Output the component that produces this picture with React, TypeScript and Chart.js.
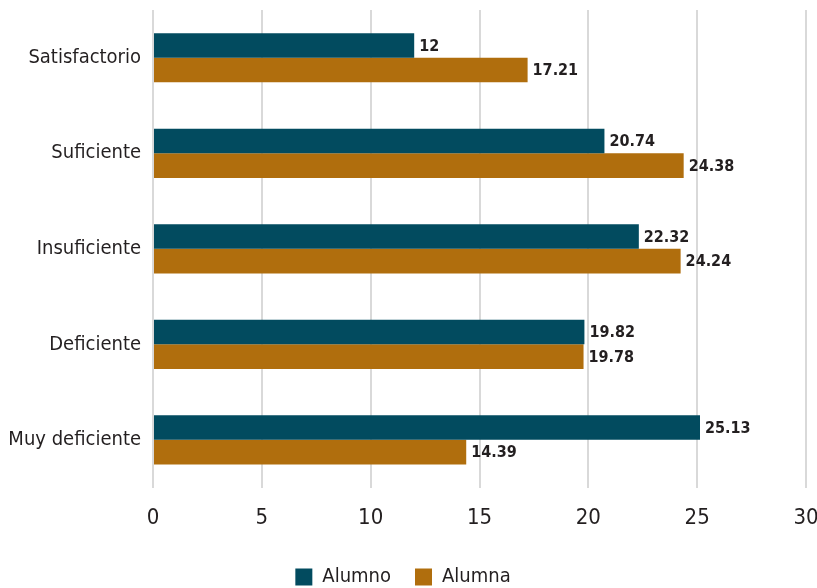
import React, { useEffect, useRef } from "react";
import { Chart, registerables } from "chart.js";

Chart.register(...registerables);

const categories = ["Satisfactorio", "Suficiente", "Insuficiente", "Deficiente", "Muy deficiente"];
const alumnoValues = [12, 20.74, 22.32, 19.82, 25.13];
const alumnaValues = [17.21, 24.38, 24.24, 19.78, 14.39];
const seriesNames = ["Alumno", "Alumna"];
const xTicks = [0, 5, 10, 15, 20, 25, 30];

const FONT = "'DejaVu Sans Condensed', 'Liberation Sans Narrow', sans-serif";
const TEXT = "#231f20";

const valueLabels = {
  id: "valueLabels",
  afterDatasetsDraw(chart: any) {
    const ctx = chart.ctx;
    ctx.save();
    ctx.font = `bold 16px ${FONT}`;
    ctx.fillStyle = TEXT;
    ctx.textAlign = "left";
    ctx.textBaseline = "middle";
    chart.data.datasets.forEach((ds: any, di: number) => {
      const meta = chart.getDatasetMeta(di);
      meta.data.forEach((bar: any, i: number) => {
        const v = ds.data[i];
        ctx.fillText(String(v), bar.x + 5, bar.y + 1);
      });
    });
    ctx.restore();
  },
};

export default function App() {
  const ref = useRef<HTMLCanvasElement>(null);
  useEffect(() => {
    document.body.style.margin = "0";
    const chart = new Chart(ref.current!, {
      type: "bar",
      data: {
        labels: categories,
        datasets: [
          { label: seriesNames[0], data: alumnoValues, backgroundColor: "#024b5f", borderWidth: 0 },
          { label: seriesNames[1], data: alumnaValues, backgroundColor: "#b06e0d", borderWidth: 0 },
        ],
      },
      options: {
        indexAxis: "y",
        animation: false,
        responsive: false,
        layout: { padding: { top: 10, right: 11, left: 0, bottom: -9 } },
        datasets: { bar: { categoryPercentage: 0.515, barPercentage: 1 } },
        scales: {
          x: {
            min: 0,
            max: 30,
            afterBuildTicks: (s: any) => { s.ticks = xTicks.map((v) => ({ value: v })); },
            afterFit: (s: any) => { s.paddingLeft = 0; s.paddingRight = 0; s.height -= 5; },
            grid: { color: "#d9d9d9", lineWidth: 2, drawTicks: false },
            border: { display: false },
            ticks: { color: TEXT, font: { family: FONT, size: 22 }, padding: 17 },
          },
          y: {
            grid: { display: false, drawTicks: false },
            border: { display: false },
            ticks: { color: TEXT, font: { family: FONT, size: 20 }, padding: 12 },
            afterFit: (s: any) => { s.width = 153; s.paddingTop = 0; s.paddingBottom = 0; },
          },
        },
        plugins: {
          legend: {
            position: "bottom",
            labels: { color: TEXT, font: { family: FONT, size: 20 }, boxWidth: 17, boxHeight: 17, padding: 24 },
          },
          tooltip: { enabled: false },
        },
      },
      plugins: [valueLabels],
    });
    return () => chart.destroy();
  }, []);
  return (
    <div style={{ width: 817, height: 588 }}>
      <canvas ref={ref} width={817} height={588} />
    </div>
  );
}
